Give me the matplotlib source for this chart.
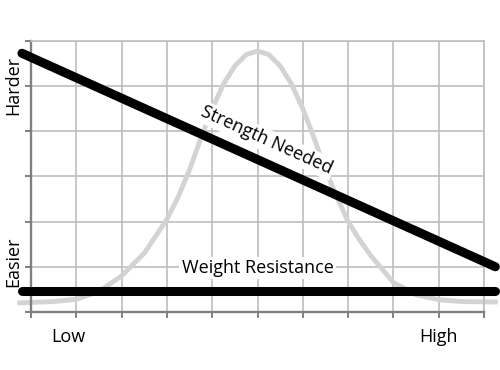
import matplotlib.pyplot as plt

plt.rcParams['font.family'] = ['Open Sans', 'DejaVu Sans']

# grey bell curve
curve_x = [-0.25, 0.0, 0.5, 1.0, 1.5, 2.0, 2.5, 3.0, 3.25, 3.5, 3.75, 4.0, 4.25, 4.5, 4.75,
           5.0, 5.25, 5.5, 5.75, 6.0, 6.25, 6.5, 6.75, 7.0, 7.25, 7.5, 8.0, 8.5, 9.0, 9.5, 10.25]
curve_y = [0.20, 0.21, 0.23, 0.28, 0.45, 0.80, 1.30, 2.05, 2.55, 3.15, 3.85, 4.50, 5.05, 5.45, 5.70,
           5.78, 5.70, 5.45, 5.05, 4.50, 3.85, 3.15, 2.55, 2.00, 1.60, 1.25, 0.65, 0.38, 0.27, 0.23, 0.22]

# strength needed (straight line)
strength_x = [-0.2, 10.25]
strength_y = [5.73, 1.0]

# weight resistance (flat line)
weight_x = [-0.2, 10.25]
weight_y = [0.46, 0.46]

x_labels = ['Low', 'High']
x_label_pos = [0.82, 9.0]

fig = plt.figure(figsize=(5, 3.7), dpi=100)
ax = fig.add_axes([0.062, 0.157, 0.906, 0.732])
ax.set_xlim(0, 10)
ax.set_ylim(0, 6)

grid_col = '#bdbdbd'
ax.set_xticks(range(11))
ax.set_yticks(range(7))
ax.grid(True, color=grid_col, lw=1.2, zorder=0)
ax.set_axisbelow(True)
ax.tick_params(labelleft=False, labelbottom=False, length=4, width=1.4, color='#808080')
for s in ['top', 'right']:
    ax.spines[s].set_color(grid_col)
    ax.spines[s].set_linewidth(1.2)
for s in ['left', 'bottom']:
    ax.spines[s].set_color('#808080')
    ax.spines[s].set_linewidth(1.7)

ax.plot(curve_x, curve_y, color='#d3d3d3', lw=3.5, clip_on=False, zorder=2)
ax.plot(strength_x, strength_y, color='black', lw=6.5, solid_capstyle='round', clip_on=False, zorder=3)
ax.plot(weight_x, weight_y, color='black', lw=6.5, solid_capstyle='round', clip_on=False, zorder=3)

ax.text(5.0, 0.98, 'Weight Resistance', fontsize=13, ha='center', va='center', zorder=4,
        bbox=dict(facecolor='white', edgecolor='none', pad=1.5))
ax.text(5.2, 3.8, 'Strength Needed', fontsize=13, ha='center', va='center', rotation=-24.3,
        rotation_mode='anchor', zorder=4, bbox=dict(facecolor='white', edgecolor='none', pad=1.5))

for lab, xp in zip(x_labels, x_label_pos):
    ax.text(xp, -0.55, lab, fontsize=13, ha='center', va='center', clip_on=False)

fig.text(0.026, 0.768, 'Harder', fontsize=13, rotation=90, ha='center', va='center')
fig.text(0.026, 0.292, 'Easier', fontsize=13, rotation=90, ha='center', va='center')

fig.savefig('out.png', dpi=100)
